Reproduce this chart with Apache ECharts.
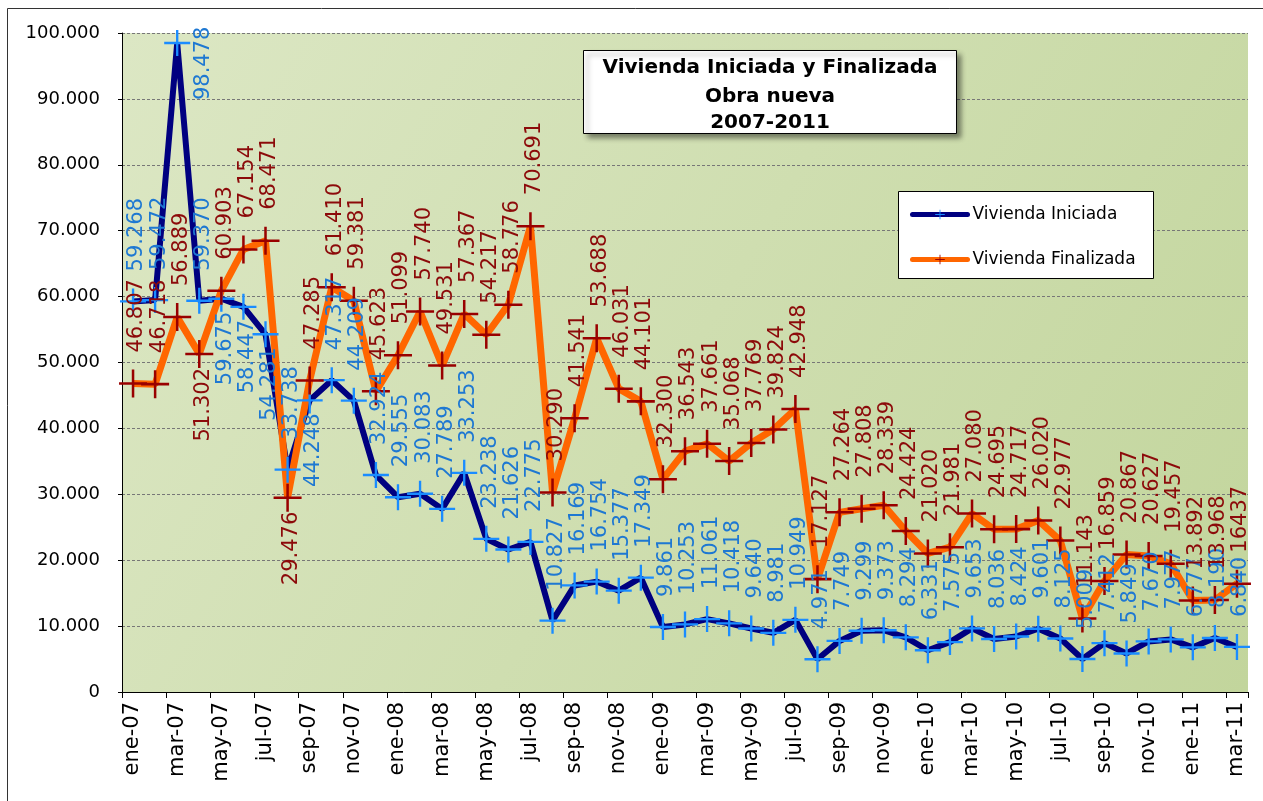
<!DOCTYPE html>
<html>
<head>
<meta charset="utf-8">
<title>Vivienda Iniciada y Finalizada</title>
<script src="https://cdn.jsdelivr.net/npm/echarts@6/dist/echarts.min.js"></script>
<style>
html, body { margin: 0; padding: 0; background: #fff; }
#chart { width: 1263px; height: 801px; }
</style>
</head>
<body>
<div id="chart"></div>
<script>
var meses = [
    'ene-07','feb-07','mar-07','abr-07','may-07','jun-07','jul-07','ago-07','sep-07','oct-07','nov-07','dic-07',
    'ene-08','feb-08','mar-08','abr-08','may-08','jun-08','jul-08','ago-08','sep-08','oct-08','nov-08','dic-08',
    'ene-09','feb-09','mar-09','abr-09','may-09','jun-09','jul-09','ago-09','sep-09','oct-09','nov-09','dic-09',
    'ene-10','feb-10','mar-10','abr-10','may-10','jun-10','jul-10','ago-10','sep-10','oct-10','nov-10','dic-10',
    'ene-11','feb-11','mar-11'
];

var iniciada = [
    59268, 59472, 98478, 59370, 59675, 58447, 54281, 33738, 44248, 47317, 44209, 32924,
    29555, 30083, 27789, 33253, 23238, 21626, 22775, 10827, 16169, 16754, 15377, 17349,
    9861, 10253, 11061, 10418, 9640, 8981, 10949, 4971, 7749, 9299, 9373, 8294,
    6331, 7575, 9653, 8036, 8424, 9601, 8125, 5009, 7412, 5849, 7670, 7977,
    6777, 8190, 6840
];

var finalizada = [
    46807, 46718, 56889, 51302, 60903, 67154, 68471, 29476, 47285, 61410, 59381, 45623,
    51099, 57740, 49531, 57367, 54217, 58776, 70691, 30290, 41541, 53688, 46031, 44101,
    32300, 36543, 37661, 35068, 37769, 39824, 42948, 17127, 27264, 27808, 28339, 24424,
    21020, 21981, 27080, 24695, 24717, 26020, 22977, 11143, 16859, 20867, 20627, 19457,
    13892, 13968, 16437
];

var ejeMin = 0, ejeMax = 100000, ejeIntervalo = 10000;

// etiquetas que en el original quedan debajo del punto
var abajoIni = [4, 5, 6, 8];
var abajoFin = [3, 7];

var cruz = 'path://M-10,-0.9H10V0.9H-10Z M-0.9,-10H0.9V10H-0.9Z';
var fuente = '"DejaVu Sans", Verdana, sans-serif';

function puntos(n) {
    return String(n).replace(/\B(?=(\d{3})+(?!\d))/g, '.');
}

function datos(valores, abajo) {
    return valores.map(function (v, i) {
        var item = { value: v };
        if (abajo.indexOf(i) >= 0) {
            item.label = { position: 'bottom', distance: 0, align: 'right' };
        }
        return item;
    });
}

var datosIni = datos(iniciada, abajoIni);
var datosFin = datos(finalizada, abajoFin);
// el pico de mar-07 no cabe arriba: Excel lo desplaza a la derecha
datosIni[2].label = { position: [39, 70], align: 'left', offset: [0, 0] };
datosFin[datosFin.length - 1].label = { formatter: '16437' };

function etiqueta(color) {
    return {
        show: true,
        position: 'top',
        distance: 17,
        rotate: 90,
        align: 'left',
        verticalAlign: 'middle',
        offset: [0, 4],
        color: color,
        fontSize: 21,
        fontFamily: fuente,
        formatter: function (p) { return puntos(p.value); }
    };
}

var chart = echarts.init(document.getElementById('chart'));

var option = {
    animation: false,
    backgroundColor: '#fff',
    grid: {
        left: 122,
        right: 15,
        top: 33,
        bottom: 109,
        show: true,
        borderWidth: 0,
        backgroundColor: new echarts.graphic.LinearGradient(0, 0, 1, 1, [
            { offset: 0, color: '#dce7c4' },
            { offset: 1, color: '#c2d59c' }
        ])
    },
    legend: {
        orient: 'vertical',
        left: 905,
        top: 201,
        itemWidth: 55,
        itemHeight: 12,
        itemGap: 28,
        z: 20,
        lineStyle: { width: 5, cap: 'round' },
        textStyle: { fontSize: 17, fontFamily: fuente, color: '#000' },
        data: ['Vivienda Iniciada', 'Vivienda Finalizada']
    },
    xAxis: {
        type: 'category',
        data: meses,
        boundaryGap: true,
        axisLine: { lineStyle: { color: '#000', width: 1 } },
        axisTick: { show: true, interval: 1, length: 6, lineStyle: { color: '#000' } },
        axisLabel: {
            interval: 1,
            rotate: 90,
            margin: 10,
            fontSize: 21,
            fontFamily: fuente,
            color: '#000'
        },
        splitLine: { show: false }
    },
    yAxis: {
        type: 'value',
        min: ejeMin,
        max: ejeMax,
        interval: ejeIntervalo,
        axisLine: { show: true, lineStyle: { color: '#000', width: 1 } },
        axisTick: { show: true, length: 4, lineStyle: { color: '#000' } },
        axisLabel: {
            margin: 22,
            fontSize: 18,
            fontFamily: fuente,
            color: '#000',
            formatter: function (v) { return puntos(v); }
        },
        splitLine: { show: true, lineStyle: { color: '#777', type: [3, 2], width: 1 } }
    },
    series: [
        {
            name: 'Vivienda Iniciada',
            type: 'line',
            data: datosIni,
            symbol: cruz,
            symbolSize: 26,
            showAllSymbol: true,
            lineStyle: { color: '#000080', width: 6 },
            itemStyle: { color: '#1a8cff' },
            label: etiqueta('#1e78d2'),
            emphasis: { disabled: true }
        },
        {
            name: 'Vivienda Finalizada',
            type: 'line',
            data: datosFin,
            symbol: cruz,
            symbolSize: 28,
            showAllSymbol: true,
            lineStyle: { color: '#ff6600', width: 7 },
            itemStyle: { color: '#990000' },
            label: etiqueta('#8c0a0a'),
            emphasis: { disabled: true }
        }
    ],
    graphic: [
        {
            type: 'rect',
            silent: true,
            shape: { x: 7.5, y: 8.5, width: 1400, height: 1000 },
            style: { fill: 'none', stroke: '#333', lineWidth: 1 }
        },
        {
            type: 'rect',
            z: 10,
            shape: { x: 583.5, y: 50.5, width: 373, height: 83 },
            style: {
                fill: '#fff', stroke: '#000', lineWidth: 1,
                shadowBlur: 5, shadowOffsetX: 4, shadowOffsetY: 4, shadowColor: 'rgba(0,0,0,0.45)'
            }
        },
        {
            type: 'text', z: 11, x: 770, y: 68,
            style: { text: 'Vivienda Iniciada y Finalizada', align: 'center', verticalAlign: 'middle',
                     font: 'bold 20px ' + fuente, fill: '#000' }
        },
        {
            type: 'text', z: 11, x: 770, y: 97,
            style: { text: 'Obra nueva', align: 'center', verticalAlign: 'middle',
                     font: 'bold 20px ' + fuente, fill: '#000' }
        },
        {
            type: 'text', z: 11, x: 770, y: 123,
            style: { text: '2007-2011', align: 'center', verticalAlign: 'middle',
                     font: 'bold 20px ' + fuente, fill: '#000' }
        },
        {
            type: 'rect',
            z: 10,
            shape: { x: 898.5, y: 191.5, width: 255, height: 87 },
            style: { fill: '#fff', stroke: '#000', lineWidth: 1 }
        }
    ]
};

chart.setOption(option);
</script>
</body>
</html>
